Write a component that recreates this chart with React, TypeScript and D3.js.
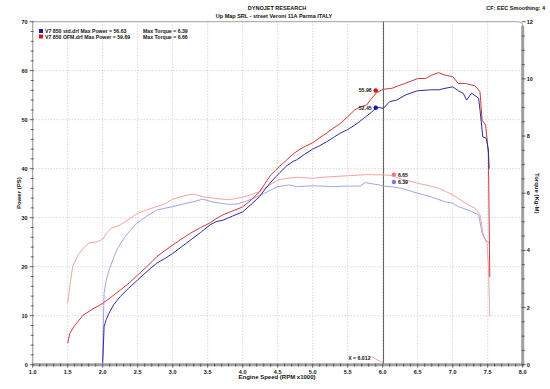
import React, { useEffect, useRef } from 'react';
import * as d3 from 'd3';

// V7 850 OFM.drf (red)
const ofmPowerRpm = [1.50, 1.53, 1.60, 1.72, 1.85, 2.00, 2.12, 2.25, 2.38, 2.50, 2.63, 2.77, 2.88, 3.00, 3.12, 3.25, 3.40, 3.53, 3.62, 3.72, 3.86, 4.00, 4.12, 4.24, 4.32, 4.40, 4.52, 4.63, 4.72, 4.82, 4.90, 5.00, 5.10, 5.20, 5.30, 5.40, 5.50, 5.60, 5.68, 5.77, 5.84, 5.91, 6.01, 6.13, 6.22, 6.32, 6.41, 6.50, 6.61, 6.70, 6.80, 6.89, 7.00, 7.08, 7.18, 7.32, 7.39, 7.42, 7.47, 7.51, 7.52, 7.53];
const ofmPower = [4.4, 6.4, 8.0, 10.1, 11.3, 12.5, 13.8, 15.2, 16.7, 18.3, 20.0, 22.0, 23.2, 24.4, 25.6, 26.8, 28.0, 28.9, 29.8, 30.6, 31.4, 32.2, 33.6, 35.3, 37.0, 38.7, 40.4, 41.8, 43.0, 44.0, 44.6, 45.3, 46.3, 47.3, 48.3, 49.3, 50.6, 52.0, 52.6, 53.0, 54.3, 55.5, 56.2, 56.4, 56.9, 57.4, 57.9, 58.4, 58.4, 59.1, 59.6, 59.1, 58.8, 57.4, 57.4, 56.9, 55.7, 49.9, 48.9, 43.1, 30.0, 17.9];
const ofmTorqueRpm = [1.50, 1.53, 1.57, 1.65, 1.72, 1.80, 1.92, 2.00, 2.06, 2.12, 2.25, 2.38, 2.50, 2.63, 2.77, 2.88, 3.00, 3.15, 3.29, 3.43, 3.60, 3.75, 3.85, 4.00, 4.12, 4.24, 4.38, 4.50, 4.63, 4.77, 5.00, 5.15, 5.29, 5.50, 5.77, 6.01, 6.12, 6.23, 6.35, 6.50, 6.68, 6.80, 6.90, 7.00, 7.08, 7.18, 7.32, 7.39, 7.44, 7.49, 7.51, 7.53];
const ofmTorque = [2.15, 2.73, 3.43, 3.85, 4.07, 4.25, 4.30, 4.39, 4.62, 4.77, 4.89, 5.10, 5.30, 5.42, 5.53, 5.62, 5.79, 5.90, 5.97, 5.88, 5.82, 5.78, 5.79, 5.86, 5.95, 6.05, 6.28, 6.46, 6.52, 6.56, 6.52, 6.56, 6.58, 6.61, 6.65, 6.64, 6.62, 6.52, 6.44, 6.35, 6.25, 6.17, 6.06, 5.94, 5.82, 5.65, 5.47, 5.24, 4.48, 4.25, 3.5, 1.68];

// V7 850 std.drf (blue)
const stdPowerRpm = [2.00, 2.01, 2.02, 2.05, 2.09, 2.16, 2.25, 2.37, 2.50, 2.63, 2.77, 2.88, 3.00, 3.12, 3.25, 3.40, 3.53, 3.62, 3.72, 3.85, 4.00, 4.12, 4.24, 4.33, 4.43, 4.53, 4.63, 4.72, 4.77, 4.88, 5.00, 5.10, 5.20, 5.30, 5.40, 5.50, 5.60, 5.66, 5.73, 5.82, 5.90, 5.95, 6.01, 6.10, 6.20, 6.32, 6.41, 6.50, 6.68, 6.80, 6.89, 7.00, 7.08, 7.15, 7.20, 7.27, 7.37, 7.39, 7.43, 7.48, 7.51, 7.52];
const stdPower = [0.3, 4.0, 7.8, 9.2, 10.5, 12.3, 13.9, 15.6, 17.3, 19.0, 20.7, 21.6, 22.7, 24.0, 25.4, 27.0, 28.5, 29.2, 29.5, 30.3, 31.2, 32.7, 34.3, 36.0, 37.7, 39.2, 40.6, 41.5, 41.8, 42.9, 44.0, 44.7, 45.5, 46.4, 47.3, 48.0, 48.9, 49.5, 50.3, 51.3, 52.3, 52.5, 52.3, 53.7, 54.0, 55.0, 55.5, 55.9, 56.1, 56.1, 56.4, 56.7, 55.9, 55.4, 54.0, 55.4, 54.4, 52.0, 46.5, 46.2, 43.8, 40.0];
const stdTorqueRpm = [2.00, 2.01, 2.02, 2.05, 2.09, 2.15, 2.20, 2.27, 2.34, 2.42, 2.50, 2.63, 2.77, 2.88, 3.00, 3.15, 3.29, 3.43, 3.56, 3.68, 3.80, 3.92, 4.05, 4.15, 4.33, 4.50, 4.67, 4.77, 5.00, 5.29, 5.50, 5.68, 5.75, 5.87, 5.95, 6.01, 6.15, 6.27, 6.50, 6.68, 6.89, 7.00, 7.08, 7.22, 7.37, 7.42, 7.47, 7.52];
const stdTorque = [0.16, 1.50, 2.50, 2.95, 3.31, 3.70, 4.01, 4.30, 4.54, 4.78, 4.97, 5.20, 5.41, 5.47, 5.53, 5.62, 5.70, 5.79, 5.70, 5.65, 5.61, 5.62, 5.72, 5.82, 6.02, 6.23, 6.29, 6.23, 6.26, 6.23, 6.25, 6.25, 6.37, 6.32, 6.29, 6.25, 6.22, 6.17, 6.00, 5.88, 5.70, 5.65, 5.53, 5.41, 5.24, 4.60, 4.37, 4.25];

const xTicks = [1.0, 1.5, 2.0, 2.5, 3.0, 3.5, 4.0, 4.5, 5.0, 5.5, 6.0, 6.5, 7.0, 7.5, 8.0];
const powerTicks = [0, 10, 20, 30, 40, 50, 60, 70];
const torqueTicks = [0, 2, 4, 6, 8, 10, 12];

const cursorRpm = 6.012;
const powerMarkerRpm = 5.90;
const torqueMarkerRpm = 6.16;
const markerPower = [52.45, 55.96]; // std, OFM
const markerTorque = [6.39, 6.65];

const FONT = "'Liberation Sans', Arial, sans-serif";

const App: React.FC = () => {
  const svgRef = useRef<SVGSVGElement>(null);

  useEffect(() => {
    if (!svgRef.current) return;
    document.body.style.margin = '0';

    const svg = d3.select(svgRef.current);
    svg.selectAll('*').remove();

    const x = d3.scaleLinear().domain([1, 8]).range([32.7, 522.7]);
    const yP = d3.scaleLinear().domain([0, 70]).range([364.7, 21.7]);
    const yT = d3.scaleLinear().domain([0, 12]).range([364.7, 21.7]);
    const [x0, x1] = x.range();
    const [yb, yt] = yP.range();

    svg.append('rect').attr('width', 550).attr('height', 389).attr('fill', '#fff');

    // dotted grid
    const grid = svg.append('g').attr('stroke', '#b8b8b8').attr('stroke-width', 0.8).attr('stroke-dasharray', '1,2');
    xTicks.slice(1, -1).forEach(t => {
      grid.append('line').attr('x1', x(t)).attr('x2', x(t)).attr('y1', yt).attr('y2', yb);
    });
    powerTicks.slice(1, -1).forEach(t => {
      grid.append('line').attr('x1', x0).attr('x2', x1).attr('y1', yP(t)).attr('y2', yP(t));
    });

    // frame: top border with rounded corner
    svg.append('path')
      .attr('d', `M${x0},${yt} L${x1 - 5},${yt} Q${x1},${yt} ${x1},${yt + 5}`)
      .attr('fill', 'none').attr('stroke', '#a0a0a0').attr('stroke-width', 1);

    // cursor line
    svg.append('line')
      .attr('x1', x(cursorRpm)).attr('x2', x(cursorRpm)).attr('y1', yt).attr('y2', yb)
      .attr('stroke', '#606060').attr('stroke-width', 1);

    const line = (xs: number[], ys: number[], yScale: d3.ScaleLinear<number, number>) =>
      d3.line<number>().x((_, i) => x(xs[i])).y(d => yScale(d))(ys);

    const series = [
      { xs: ofmTorqueRpm, ys: ofmTorque, s: yT, c: '#f2a4a4' },
      { xs: stdTorqueRpm, ys: stdTorque, s: yT, c: '#a4a4ea' },
      { xs: ofmPowerRpm, ys: ofmPower, s: yP, c: '#cc3a3a' },
      { xs: stdPowerRpm, ys: stdPower, s: yP, c: '#2c2ca4' },
    ];
    series.forEach(d => {
      svg.append('path').attr('d', line(d.xs, d.ys, d.s)!)
        .attr('fill', 'none').attr('stroke', d.c).attr('stroke-width', 1)
        .attr('stroke-linejoin', 'round');
    });

    // axes
    const axisCol = '#a0a0a0';
    svg.append('line').attr('x1', x0).attr('x2', x0).attr('y1', yt).attr('y2', yb)
      .attr('stroke', axisCol).attr('stroke-width', 1.2);
    svg.append('line').attr('x1', x1).attr('x2', x1).attr('y1', yt + 4).attr('y2', yb)
      .attr('stroke', axisCol).attr('stroke-width', 3);
    svg.append('line').attr('x1', x0).attr('x2', x1 + 1.5).attr('y1', yb).attr('y2', yb)
      .attr('stroke', axisCol).attr('stroke-width', 3);

    const ticks = svg.append('g').attr('stroke', '#404040').attr('stroke-width', 0.8);
    d3.range(0, 71, 2).forEach(v => {
      const len = v % 10 === 0 ? 3 : 2;
      ticks.append('line').attr('x1', x0 - len).attr('x2', x0 + 1).attr('y1', yP(v)).attr('y2', yP(v));
    });
    d3.range(0, 12.01, 0.5).forEach(v => {
      const len = v % 2 === 0 ? 3 : 2;
      ticks.append('line').attr('x1', x1 - 1).attr('x2', x1 + len).attr('y1', yT(v)).attr('y2', yT(v));
    });
    d3.range(10, 81, 1).forEach(v => {
      const r = v / 10;
      const len = v % 5 === 0 ? 3 : 2;
      ticks.append('line').attr('x1', x(r)).attr('x2', x(r)).attr('y1', yb - 1).attr('y2', yb + len);
    });

    const txt = (sx: number, sy: number, s: string, size = 5.5, anchor = 'start', fill = '#111') =>
      svg.append('text').attr('x', sx).attr('y', sy).text(s)
        .attr('font-family', FONT).attr('font-size', size).attr('font-weight', 'bold')
        .attr('text-anchor', anchor).attr('fill', fill);

    powerTicks.forEach(t => txt(x0 - 5, yP(t) + 2, String(t), 5.5, 'end'));
    torqueTicks.forEach(t => txt(x1 + 4, yT(t) + 2, String(t), 5.5, 'start'));
    xTicks.forEach(t => txt(x(t), yb + 9, t.toFixed(1), 5.5, 'middle'));

    txt(277, 379, 'Engine Speed (RPM x1000)', 6, 'middle');
    txt(0, 0, 'Power (PS)', 6, 'middle').attr('transform', `translate(21,${yP(35)}) rotate(-90)`);
    txt(0, 0, 'Torque (Kg-M)', 6, 'middle').attr('transform', `translate(535,${yT(6)}) rotate(90)`);

    // titles
    txt(277, 10, 'DYNOJET RESEARCH', 5.5, 'middle');
    txt(274, 18, 'Up Map SRL - street Veroni 11A Parma ITALY', 5.5, 'middle');
    txt(545, 10, 'CF: EEC  Smoothing: 4', 5.5, 'end');

    // legend
    const legend = [
      { c: '#1818b0', label: 'V7 850 std.drf Max Power = 56.63', tq: 'Max Torque = 6.39' },
      { c: '#d01818', label: 'V7 850 OFM.drf Max Power = 59.69', tq: 'Max Torque = 6.66' },
    ];
    legend.forEach((d, i) => {
      const ly = 33 + i * 5.5;
      svg.append('rect').attr('x', 39).attr('y', ly - 4).attr('width', 4).attr('height', 4).attr('fill', d.c);
      txt(45, ly, d.label, 5.2);
      txt(143, ly, d.tq, 5.2);
    });

    // cursor markers
    const pCols = ['#1010c0', '#e01010'];
    const tCols = ['#7878ee', '#f07878'];
    markerPower.forEach((v, i) => {
      svg.append('circle').attr('cx', x(powerMarkerRpm)).attr('cy', yP(v)).attr('r', 2.2).attr('fill', pCols[i]);
      txt(x(powerMarkerRpm) - 4, yP(v) + 2, v.toFixed(2), 5.2, 'end');
    });
    markerTorque.forEach((v, i) => {
      svg.append('circle').attr('cx', x(torqueMarkerRpm)).attr('cy', yT(v)).attr('r', 2.2).attr('fill', tCols[i]);
      txt(x(torqueMarkerRpm) + 4, yT(v) + 2, v.toFixed(2), 5.2, 'start');
    });

    txt(x(cursorRpm) - 13, yb - 5, `X = ${cursorRpm.toFixed(3)}`, 5.2, 'end');
    svg.append('line')
      .attr('x1', x(cursorRpm) - 12).attr('y1', yb - 8).attr('x2', x(cursorRpm) - 1).attr('y2', yb - 2)
      .attr('stroke', '#e07070').attr('stroke-width', 0.6);
  }, []);

  return <svg ref={svgRef} width={550} height={389} style={{ display: 'block', position: 'absolute', left: 0, top: 0 }} />;
};

export default App;
